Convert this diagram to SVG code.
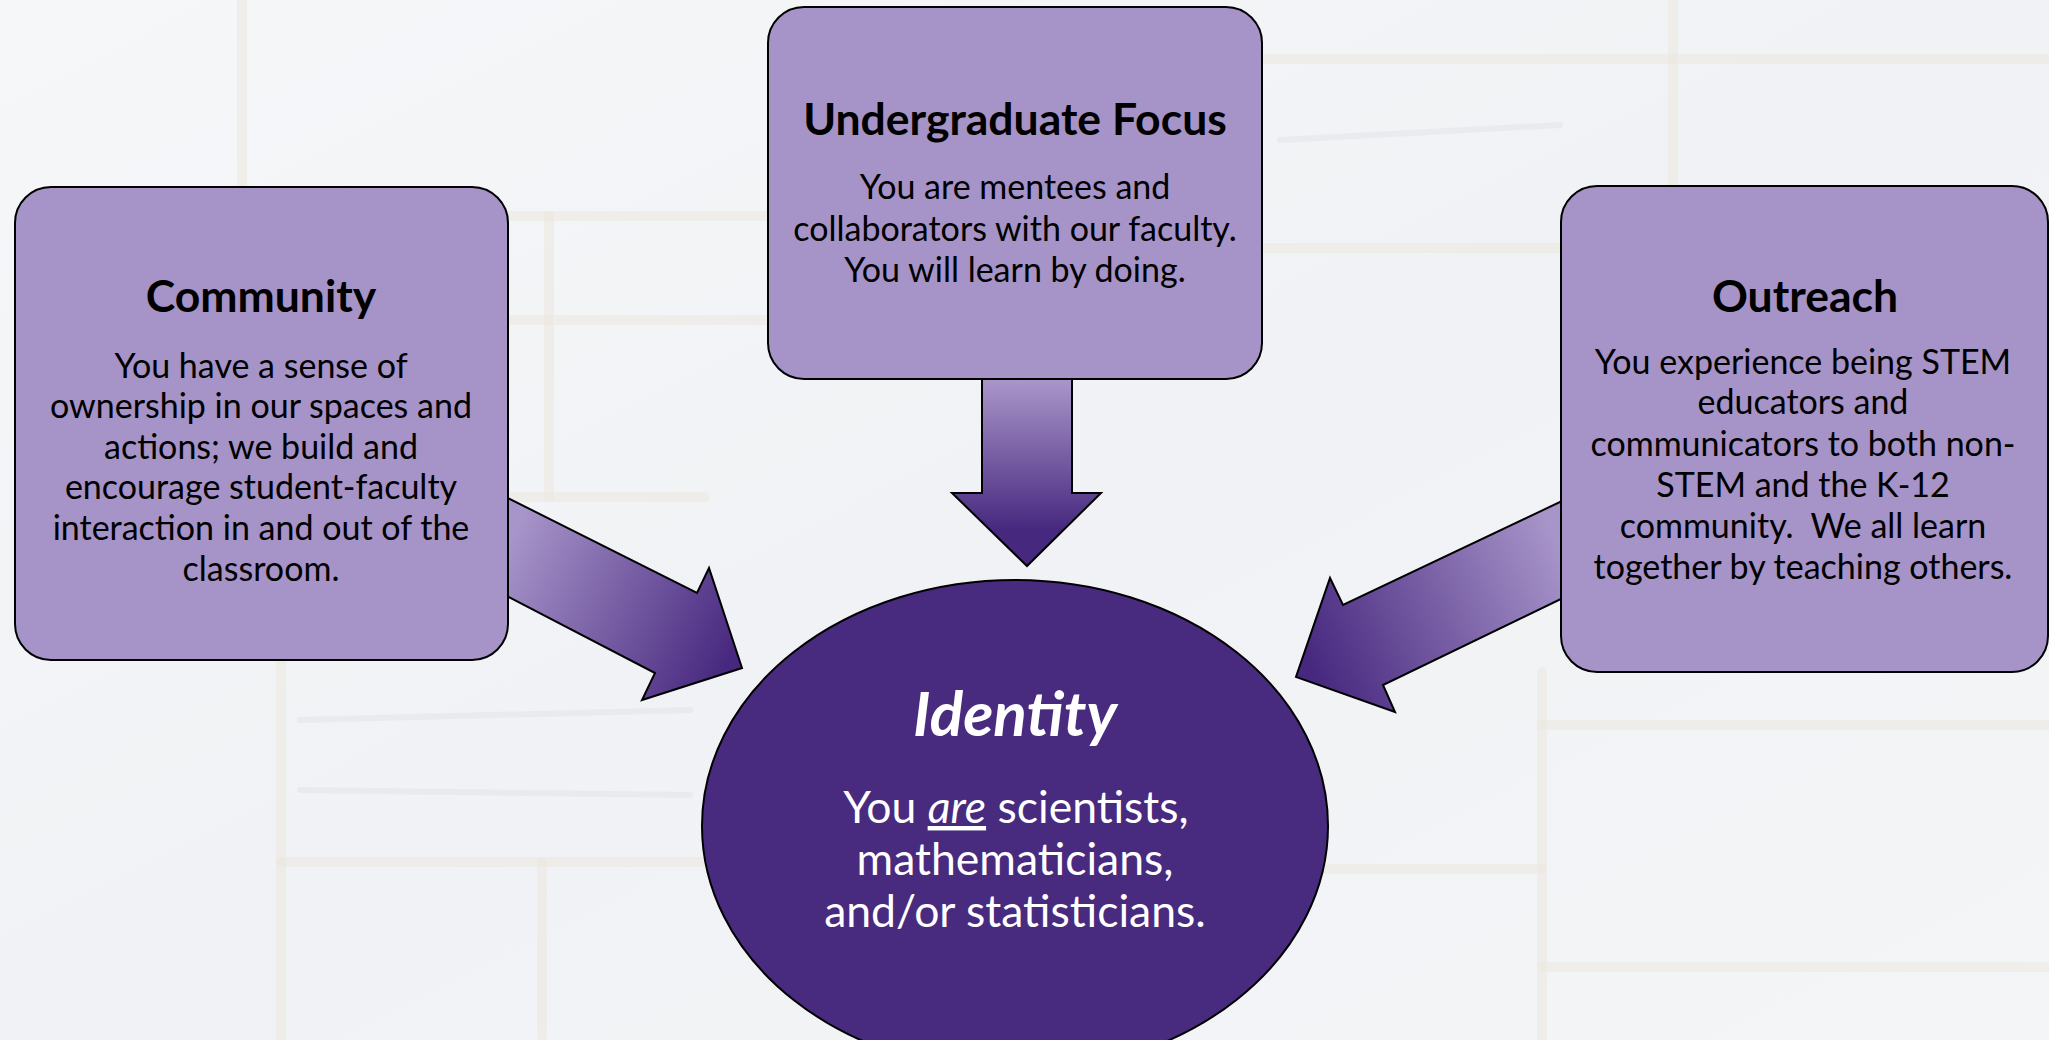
<svg xmlns="http://www.w3.org/2000/svg" width="2049" height="1040" viewBox="0 0 2049 1040">
  <defs>
    <linearGradient id="bgGrad" x1="0" y1="0" x2="1" y2="1">
      <stop offset="0" stop-color="#f6f7f9"/>
      <stop offset="0.5" stop-color="#f1f2f5"/>
      <stop offset="1" stop-color="#f4f5f7"/>
    </linearGradient>
    <linearGradient id="gLeft" gradientUnits="userSpaceOnUse" x1="508" y1="547" x2="730" y2="660">
      <stop offset="0" stop-color="#a794c9"/>
      <stop offset="1" stop-color="#47287f"/>
    </linearGradient>
    <linearGradient id="gRight" gradientUnits="userSpaceOnUse" x1="1560" y1="550" x2="1310" y2="665">
      <stop offset="0" stop-color="#a794c9"/>
      <stop offset="1" stop-color="#47287f"/>
    </linearGradient>
    <linearGradient id="gDown" gradientUnits="userSpaceOnUse" x1="0" y1="380" x2="0" y2="530">
      <stop offset="0" stop-color="#a996c9"/>
      <stop offset="1" stop-color="#47287f"/>
    </linearGradient>
    <style>
      .box { fill: #a693c7; stroke: #000; stroke-width: 2; }
      .arrow { stroke: #000; stroke-width: 2; stroke-linejoin: miter; }
      .title { font-family: Lato, "Open Sans", sans-serif; font-weight: bold; font-size: 44.5px; fill: #000; text-anchor: middle; }
      .body { font-family: Lato, "Open Sans", sans-serif; font-size: 34px; fill: #000; text-anchor: middle; }
      .mortar { stroke: #ebe7de; stroke-width: 10; stroke-linecap: round; opacity: 0.55; fill: none; }
      .streak { stroke: #dfe1e6; stroke-width: 6; stroke-linecap: round; opacity: 0.45; fill: none; }
      .etitle { font-family: Lato, "Open Sans", sans-serif; font-weight: bold; font-style: italic; font-size: 62px; fill: #fff; text-anchor: middle; }
      .ebody { font-family: Lato, "Open Sans", sans-serif; font-size: 44.5px; fill: #fff; text-anchor: middle; }
    </style>
  </defs>

  <g id="background">
    <rect x="0" y="0" width="2049" height="1040" fill="url(#bgGrad)"/>
    <line class="mortar" x1="242" y1="0" x2="242" y2="190"/>
    <line class="mortar" x1="281" y1="660" x2="281" y2="1040"/>
    <line class="mortar" x1="281" y1="862" x2="702" y2="862"/>
    <line class="mortar" x1="542" y1="862" x2="542" y2="1040"/>
    <line class="mortar" x1="510" y1="216" x2="768" y2="216"/>
    <line class="mortar" x1="510" y1="320" x2="768" y2="320"/>
    <line class="mortar" x1="549" y1="216" x2="549" y2="497"/>
    <line class="mortar" x1="510" y1="497" x2="705" y2="497"/>
    <line class="mortar" x1="1262" y1="59" x2="2049" y2="59"/>
    <line class="mortar" x1="1262" y1="248" x2="1561" y2="248"/>
    <line class="mortar" x1="1673" y1="0" x2="1673" y2="186"/>
    <line class="mortar" x1="1542" y1="672" x2="1542" y2="1040"/>
    <line class="mortar" x1="1542" y1="725" x2="2049" y2="725"/>
    <line class="mortar" x1="1310" y1="869" x2="1542" y2="869"/>
    <line class="mortar" x1="1542" y1="967" x2="2049" y2="967"/>
    <line class="streak" x1="300" y1="720" x2="690" y2="710"/>
    <line class="streak" x1="300" y1="790" x2="690" y2="795"/>
    <line class="streak" x1="1280" y1="140" x2="1560" y2="125"/>
  </g>

  <g id="connectors">
    <polygon id="arrow-left" class="arrow" fill="url(#gLeft)" points="470,479 697,593 709,568 742,668 642,700 655,673 470,577"/>
    <polygon id="arrow-down" class="arrow" fill="url(#gDown)" points="982,360 1072,360 1072,493 1101,493 1027,566 952,493 982,493"/>
    <polygon id="arrow-right" class="arrow" fill="url(#gRight)" points="1600,483 1343,605 1330,578 1296,677 1395,712 1383,685 1600,580"/>
  </g>

  <g id="node-undergraduate">
    <rect class="box" x="768" y="7" width="494" height="372" rx="36" ry="36"/>
    <text class="title" x="1015" y="135">Undergraduate Focus</text>
    <text class="body" x="1015" y="199">You are mentees and</text>
    <text class="body" x="1015" y="241">collaborators with our faculty.</text>
    <text class="body" x="1015" y="282">You will learn by doing.</text>
  </g>

  <g id="node-community">
    <rect class="box" x="15" y="187" width="493" height="473" rx="36" ry="36"/>
    <text class="title" x="261" y="312">Community</text>
    <text class="body" x="261" y="378">You have a sense of</text>
    <text class="body" x="261" y="418">ownership in our spaces and</text>
    <text class="body" x="261" y="459">actions; we build and</text>
    <text class="body" x="261" y="499">encourage student-faculty</text>
    <text class="body" x="261" y="540">interaction in and out of the</text>
    <text class="body" x="261" y="581">classroom.</text>
  </g>

  <g id="node-outreach">
    <rect class="box" x="1561" y="186" width="487" height="486" rx="36" ry="36"/>
    <text class="title" x="1805" y="312">Outreach</text>
    <text class="body" x="1803" y="374">You experience being STEM</text>
    <text class="body" x="1803" y="414">educators and</text>
    <text class="body" x="1803" y="456">communicators to both non-</text>
    <text class="body" x="1803" y="497">STEM and the K-12</text>
    <text class="body" x="1803" y="538" xml:space="preserve">community.  We all learn</text>
    <text class="body" x="1803" y="579">together by teaching others.</text>
  </g>

  <g id="node-identity">
    <ellipse cx="1015" cy="826" rx="313" ry="246" fill="#482a7f" stroke="#000" stroke-width="2"/>
    <text class="etitle" x="1015" y="736">Identity</text>
    <text class="ebody" x="1016" y="823">You <tspan font-style="italic" text-decoration="underline">are</tspan> scientists,</text>
    <text class="ebody" x="1015" y="875">mathematicians,</text>
    <text class="ebody" x="1015" y="927">and/or statisticians.</text>
  </g>
</svg>
